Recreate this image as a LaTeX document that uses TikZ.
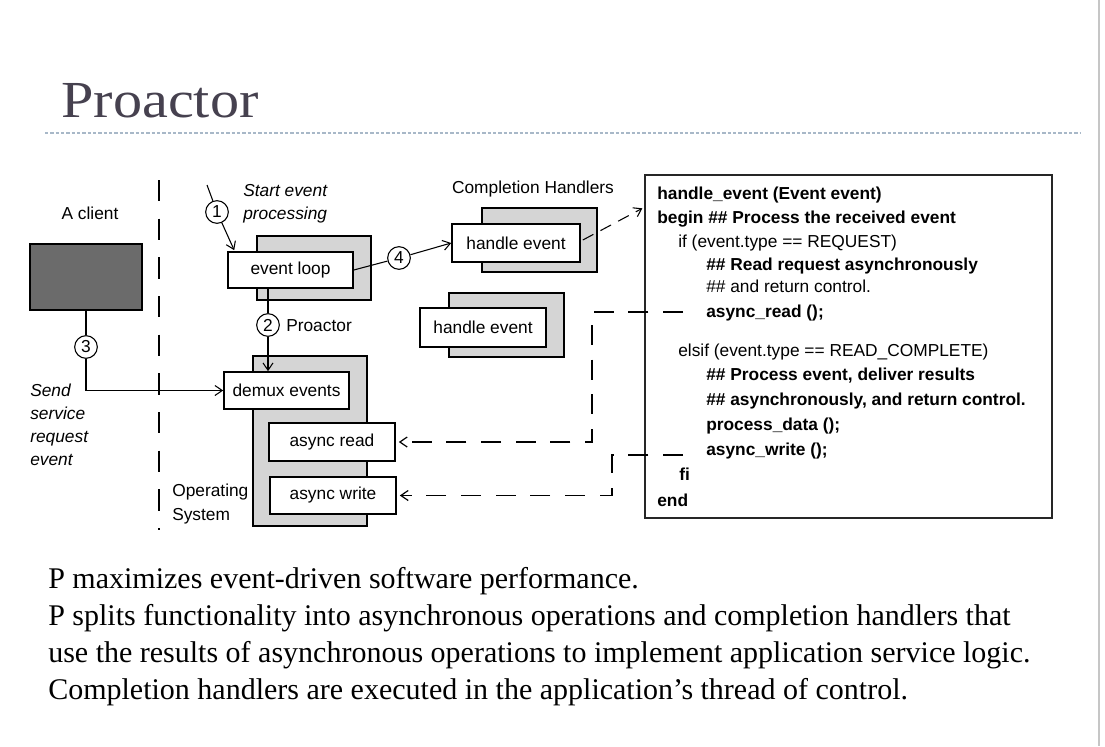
\documentclass[tikz,border=0pt]{standalone}
\usepackage{fontspec}
\setmainfont{Liberation Serif}
\setsansfont{Liberation Sans}
\newfontfamily\titlefont[FakeStretch=1.12]{Liberation Serif}
\usetikzlibrary{arrows.meta,calc}
\definecolor{titlegray}{HTML}{46414F}
\definecolor{rulecol}{HTML}{A8B8C8}
\tikzset{
  lbl/.style={font=\sffamily\fontsize{13}{15}\selectfont, inner sep=0pt},
  ilbl/.style={font=\sffamily\itshape\fontsize{13}{15}\selectfont, inner sep=0pt},
  box/.style={draw=black, line width=1.2pt, fill=white, inner sep=0pt, font=\sffamily\fontsize{13}{15}\selectfont},
  shadowbox/.style={draw=black, line width=1pt, fill=gray!33, inner sep=0pt},
  clientbox/.style={draw=black, line width=1pt, fill=black!58, inner sep=0pt},
  num/.style={circle, draw=black, fill=white, line width=0.8pt, minimum size=17pt, inner sep=0pt, font=\sffamily\fontsize{13}{15}\selectfont},
  conn/.style={line width=0.8pt},
  tipend/.style={-{Straight Barb[length=5.5pt,width=7.5pt]}},
  dsh/.style={line width=0.9pt, dash pattern=on 15pt off 11pt},
  sepline/.style={line width=1.5pt, dash pattern=on 16pt off 13pt},
  code/.style={font=\sffamily\fontsize{13}{15}\selectfont, anchor=base west, inner sep=0pt},
  codeb/.style={font=\sffamily\bfseries\fontsize{13}{15}\selectfont, anchor=base west, inner sep=0pt},
  bodytext/.style={font=\fontsize{22.5}{27}\selectfont, anchor=base west, inner sep=0pt}
}
\begin{document}
\begin{tikzpicture}[x=0.75pt,y=-0.75pt]
\useasboundingbox[fill=white] (0,0) rectangle (1105,746);
% slide edge
\draw[gray!45, line width=1.2pt] (1099,0) -- (1099,746);
% title
\node[anchor=base west, inner sep=0pt, text=titlegray, font=\titlefont\fontsize{39}{42}\selectfont] (title) at (61,117) {Proactor};
\coordinate (rl) at (45,133);
\coordinate (rr) at (1080,133);
\draw[rulecol, line width=0.8pt, dash pattern=on 2.5pt off 1.5pt] (rl) -- (rr);

% separator
\coordinate (septop) at (159,180);
\coordinate (sepbot) at (159,530);
\draw[sepline] (septop) -- (sepbot);

% client
\node[lbl, anchor=base] (aclient) at (90,219) {A client};
\node[clientbox, minimum width=84pt, minimum height=49.5pt] (client) at (86,277) {};
\node[ilbl, anchor=base west] (send1) at (30,396) {Send};
\node[ilbl, anchor=base west] (send2) at (30,419) {service};
\node[ilbl, anchor=base west] (send3) at (30,442) {request};
\node[ilbl, anchor=base west] (send4) at (30,465) {event};

% event loop
\node[shadowbox, minimum width=85.5pt, minimum height=48pt] (evls) at (314,268) {};
\node[box, minimum width=93.75pt, minimum height=27pt] (evl) at (290.5,270) {event loop};
\node[ilbl, anchor=base west] (start1) at (243,196) {Start event};
\node[ilbl, anchor=base west] (start2) at (243,219) {processing};

% completion handlers
\node[lbl, anchor=base] (chl) at (533,193) {Completion Handlers};
\node[shadowbox, minimum width=86.25pt, minimum height=48pt] (he1s) at (539.5,240) {};
\node[box, minimum width=96pt, minimum height=28.5pt] (he1) at (516,243) {handle event};
\node[shadowbox, minimum width=86.25pt, minimum height=48pt] (he2s) at (506.5,325) {};
\node[box, minimum width=94.5pt, minimum height=29.25pt] (he2) at (483,327.5) {handle event};

% operating system
\node[shadowbox, minimum width=85.5pt, minimum height=127.5pt] (oss) at (310,441) {};
\node[box, minimum width=93.75pt, minimum height=27.75pt] (demux) at (286.5,390.5) {demux events};
\node[box, minimum width=94.5pt, minimum height=28.5pt] (ar) at (332,442) {async read};
\node[box, minimum width=94.5pt, minimum height=27.75pt] (aw) at (333,495.5) {async write};
\node[lbl, anchor=base west] (os1) at (172,496) {Operating};
\node[lbl, anchor=base west] (os2) at (172,520) {System};
\node[lbl, anchor=base west] (proa) at (286,331) {Proactor};

% code box
\node[draw=black!85, line width=1pt, fill=white, minimum width=305.25pt, minimum height=257.25pt, inner sep=0pt] (code) at (848.5,346.5) {};
\node[codeb] (l1) at (657,199) {handle\_event (Event event)};
\node[codeb] (l2) at (657,223) {begin \#\# Process the received event};
\node[code]  (l3) at (678,247) {if (event.type == REQUEST)};
\node[codeb] (l4) at (706,270) {\#\# Read request asynchronously};
\node[code]  (l5) at (706,292) {\#\# and return control.};
\node[codeb] (l6) at (706,317) {async\_read ();};
\node[code]  (l7) at (678,356) {elsif (event.type == READ\_COMPLETE)};
\node[codeb] (l8) at (706,380) {\#\# Process event, deliver results};
\node[codeb] (l9) at (706,405) {\#\# asynchronously, and return control.};
\node[codeb] (l10) at (706,430) {process\_data ();};
\node[codeb] (l11) at (706,455) {async\_write ();};
\node[codeb] (l12) at (679,480) {fi};
\node[codeb] (l13) at (657,506) {end};

% numbered circles
\coordinate (s0) at (207,185);
\node[num] (c1) at (217,212) {1};
\node[num] (c2) at (268,325) {2};
\node[num] (c3) at (86,347) {3};
\node[num] (c4) at (399,258) {4};

% connectors
\draw[conn] (s0) -- (c1);
\draw[conn, tipend] (c1) -- ($(evl.north west)+(7,-1)$);
\draw[conn] (evl.south -| c2) -- (c2);
\draw[conn, tipend] (c2) -- (c2 |- demux.north);
\draw[conn] (client.south) -- (c3);
\draw[conn, tipend] (c3) |- (demux.west);
\draw[conn] (evl.east) -- (c4);
\draw[conn, tipend] (c4) -- (he1.west);
\draw[conn, dash pattern=on 9pt off 6pt, tipend] ($(he1.east)+(2,-3)$) -- ($(code.north west)+(-2,34)$);

% dashed calls
\coordinate (ar0) at (683,312);
\coordinate (arc) at (592,312);
\draw[dsh, tipend] (ar0) -- (arc) |- ($(ar.east)+(3,0)$);
\coordinate (aw0) at (683,455);
\coordinate (awc) at (612,455);
\draw[dsh, tipend] (aw0) -- (awc) |- ($(aw.east)+(3,0)$);

% body text
\node[bodytext] (t1) at (48,588) {P maximizes event-driven software performance.};
\node[bodytext] (t2) at (48,625) {P splits functionality into asynchronous operations and completion handlers that};
\node[bodytext] (t3) at (48,662) {use the results of asynchronous operations to implement application service logic.};
\node[bodytext] (t4) at (48,699) {Completion handlers are executed in the application’s thread of control.};
\end{tikzpicture}
\end{document}
